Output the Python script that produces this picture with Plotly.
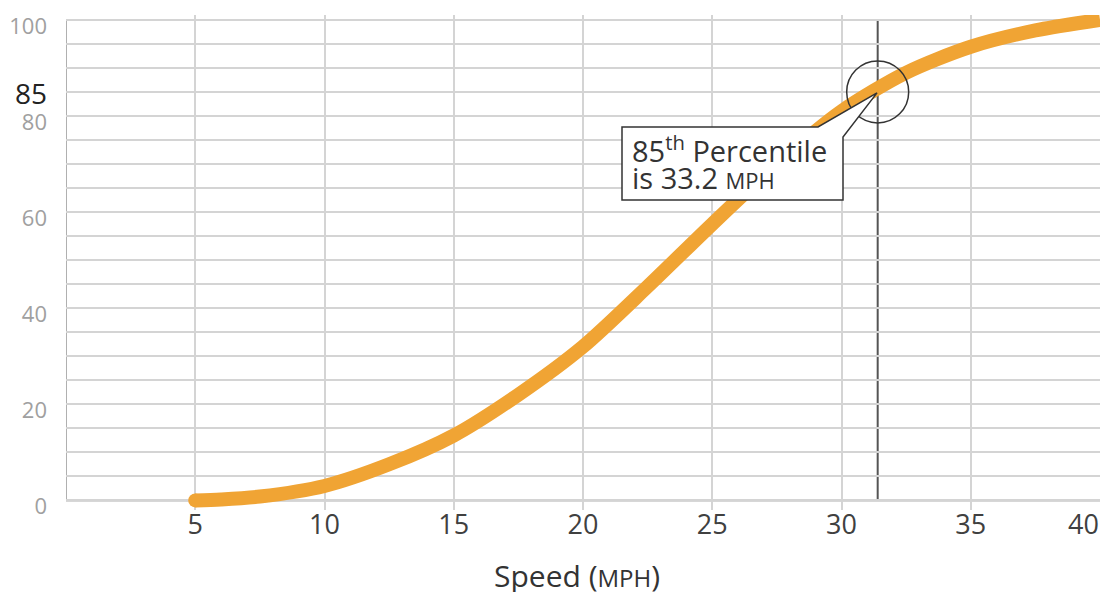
import plotly.graph_objects as go

# ---- data ----
speed = [5, 6, 7.5, 10, 12.5, 15, 17.5, 20, 22.5, 25, 27.5, 30, 32.5, 35, 37.5, 40]
percentile = [0, 0.2, 0.8, 3, 7.5, 13.5, 22, 32, 44.5, 57.5, 70, 81, 89, 94.4, 97.8, 100]
x_ticks = [5, 10, 15, 20, 25, 30, 35, 40]
y_ticks = [0, 20, 40, 60, 80, 100]
p85_speed = 31.4
p85_value = 85
callout_line1 = "85<sup>th</sup> Percentile"
callout_line2 = "is 33.2 <span style='font-size:22px'>MPH</span>"
x_title = "Speed (<span style='font-size:24px'>MPH</span>)"

# page body margin is removed by a post script, so lay out in screenshot pixels
W, H = 1102, 592
XR = (0, 40)
YR = (-2, 101)
S_PL, S_PR = 66, 1100            # screenshot pixels of x=0 and x=40
PX_PER_Y = 4.8
S_Y100 = 20
S_PT = S_Y100 - (YR[1] - 100) * PX_PER_Y
S_PB = S_PT + (YR[1] - YR[0]) * PX_PER_Y
ML = S_PL
MR = W - S_PR
MT = S_PT
MB = H - S_PB


def px2x(px):
    return XR[0] + (px - S_PL) / (S_PR - S_PL) * (XR[1] - XR[0])


def px2y(py):
    return YR[1] - (py - S_PT) / (S_PB - S_PT) * (YR[1] - YR[0])


def ppx(px):
    return (px - S_PL) / (S_PR - S_PL)


def ppy(py):
    return (S_PB - py) / (S_PB - S_PT)


FONT = "Open Sans"
ORANGE = "#F0A434"
GRID = "#d4d4d4"
DARK = "#555555"
TICK_DARK = "#404040"

fig = go.Figure()
fig.add_trace(go.Scatter(
    x=speed, y=percentile, mode="lines",
    line=dict(color=ORANGE, width=14, shape="spline", smoothing=0.8),
    hoverinfo="skip", showlegend=False, cliponaxis=False,
))
fig.add_trace(go.Scatter(
    x=speed[:1], y=percentile[:1], mode="markers",
    marker=dict(color=ORANGE, size=14, line=dict(width=0)),
    hoverinfo="skip", showlegend=False, cliponaxis=False,
))

shapes = []
shapes.append(dict(type="line", xref="x", yref="y", x0=0, x1=0, y0=0, y1=100,
                   line=dict(color="#b0b0b0", width=2), layer="below"))
shapes.append(dict(type="line", xref="x", yref="y", x0=0, x1=40, y0=0, y1=0,
                   line=dict(color="#b0b0b0", width=2), layer="below"))
shapes.append(dict(type="line", xref="x", yref="y", x0=0, x1=40, y0=p85_value, y1=p85_value,
                   line=dict(color=DARK, width=2), layer="below"))
shapes.append(dict(type="line", xref="x", yref="y", x0=p85_speed, x1=p85_speed, y0=0, y1=100,
                   line=dict(color=DARK, width=2), layer="below"))
shapes.append(dict(type="circle", xref="x", yref="y", xsizemode="pixel", ysizemode="pixel",
                   xanchor=p85_speed, yanchor=p85_value, x0=-31, x1=31, y0=-31, y1=31,
                   line=dict(color="#333333", width=1.5)))
pts = [(622, 127), (818, 127), (877, 93), (843, 137), (843, 200), (622, 200)]
path = "M " + " L ".join(f"{px2x(a):.4f},{px2y(b):.4f}" for a, b in pts) + " Z"
shapes.append(dict(type="path", xref="x", yref="y", path=path,
                   fillcolor="white", line=dict(color="#333333", width=1.5)))

annotations = []
annotations.append(dict(
    x=ppx(630), y=ppy(149), xref="paper", yref="paper", xanchor="left", yanchor="middle",
    text=callout_line1, showarrow=False, align="left",
    font=dict(family=FONT, size=29, color="#333333"),
))
annotations.append(dict(
    x=ppx(630), y=ppy(178), xref="paper", yref="paper", xanchor="left", yanchor="middle",
    text=callout_line2, showarrow=False, align="left",
    font=dict(family=FONT, size=29, color="#333333"),
))
annotations.append(dict(
    x=ppx(49), y=ppy(93), xref="paper", yref="paper", xanchor="right", yanchor="middle",
    text=str(p85_value), showarrow=False,
    font=dict(family=FONT, size=28, color="#222222"),
))
annotations.append(dict(
    x=ppx(1083), y=ppy(523), xref="paper", yref="paper", xanchor="center", yanchor="middle",
    text=str(x_ticks[-1]), showarrow=False,
    font=dict(family=FONT, size=27, color=TICK_DARK),
))
annotations.append(dict(
    x=ppx(577), y=ppy(575), xref="paper", yref="paper",
    xanchor="center", yanchor="middle", showarrow=False,
    text=x_title,
    font=dict(family=FONT, size=30, color="#333333"),
))

fig.update_layout(
    width=W, height=H,
    margin=dict(l=ML, r=MR, t=MT, b=MB, pad=0, autoexpand=False),
    plot_bgcolor="white", paper_bgcolor="white",
    shapes=shapes, annotations=annotations,
    xaxis=dict(range=list(XR), tickvals=x_ticks,
               ticktext=[str(v) for v in x_ticks[:-1]] + [""],
               showgrid=True, gridcolor=GRID, gridwidth=1.5, zeroline=False, showline=False,
               ticks="", ticklabelstandoff=-4, automargin=False, ticklabeloverflow="allow",
               tickfont=dict(family=FONT, size=27, color=TICK_DARK)),
    yaxis=dict(range=list(YR), tickvals=y_ticks, ticktext=[str(v) for v in y_ticks],
               showgrid=True, gridcolor=GRID, gridwidth=1.5, zeroline=False, showline=False,
               ticks="", ticklabelstandoff=18, automargin=False, ticklabeloverflow="allow",
               ticklabelshift=6,
               minor=dict(dtick=5, tick0=0, showgrid=True, gridcolor=GRID, gridwidth=1.5),
               tickfont=dict(family=FONT, size=22, color="#a0a0a0")),
)

fig.write_html(
    "out.html",
    config={"displayModeBar": False},
    post_script="document.body.style.margin='0px';document.body.style.overflow='hidden';",
)
